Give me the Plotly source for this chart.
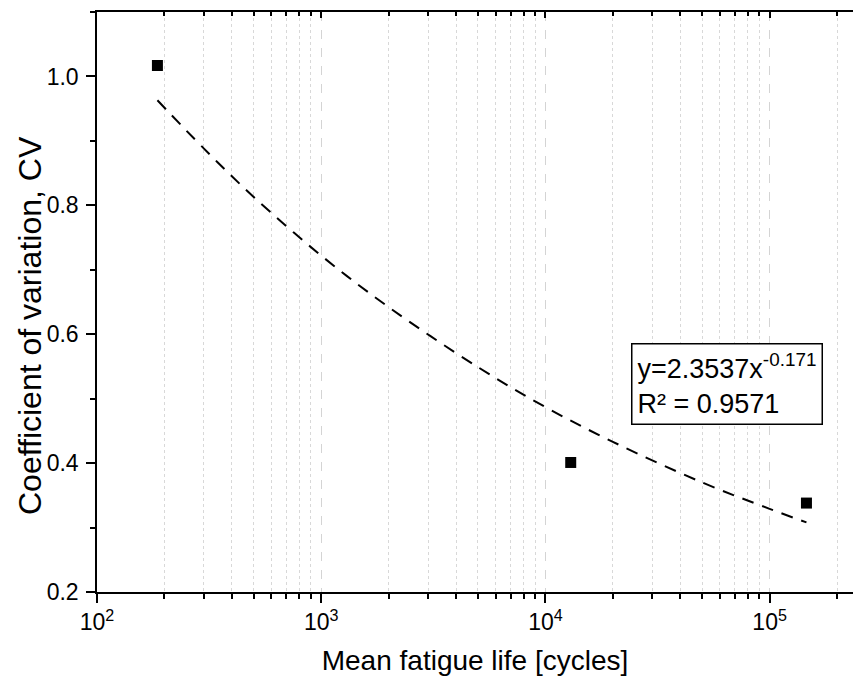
import plotly.graph_objects as go

# Measured data points
mean_life = [186, 12970, 146000]
cv_values = [1.017, 0.401, 0.338]

# Points (y = 2.3537 x^-0.171)
fit_x = [186, 300, 500, 1000, 2000, 5000, 10000, 20000, 50000, 100000, 146000]
fit_y = [0.963, 0.888, 0.813, 0.722, 0.642, 0.549, 0.487, 0.433, 0.370, 0.329, 0.308]

x_major = [100, 1000, 10000, 100000]
x_major_text = ["10<sup>2</sup>", "10<sup>3</sup>", "10<sup>4</sup>", "10<sup>5</sup>"]
x_minor = [m * d for d in (100, 1000, 10000, 100000) for m in range(2, 10)]
y_major = [0.2, 0.4, 0.6, 0.8, 1.0]
y_major_text = ["0.2", "0.4", "0.6", "0.8", "1.0"]
y_minor = [0.3, 0.5, 0.7, 0.9, 1.1]

fit_label = "y=2.3537x<sup>-0.171</sup><br>R² = 0.9571"
y_title = "Coefficient of variation, CV"
x_title = "Mean fatigue life [cycles]"

FONT = "Liberation Sans, Arial, sans-serif"
xrange = [2, 5.372]

fig = go.Figure()
fig.add_trace(go.Scatter(x=fit_x, y=fit_y, mode="lines", line=dict(color="black", width=2, dash="12px,9px", shape="spline"),
                         showlegend=False, hoverinfo="skip"))
fig.add_trace(go.Scatter(x=mean_life, y=cv_values, mode="markers",
                         marker=dict(symbol="square", size=11, color="black"), showlegend=False))
fig.add_trace(go.Scatter(x=[mean_life[0]], y=[cv_values[0]], xaxis="x2", mode="markers",
                         marker=dict(opacity=0), showlegend=False, hoverinfo="skip"))

fig.update_layout(
    width=853, height=678,
    margin=dict(l=97, r=0, t=12, b=86),
    paper_bgcolor="white", plot_bgcolor="white",
    font=dict(family=FONT, color="black"),
    xaxis=dict(type="log", range=xrange, tickmode="array", tickvals=x_major, ticktext=x_major_text,
               ticks="outside", ticklen=9, tickwidth=1.5, tickcolor="black",
               showline=True, linecolor="black", linewidth=1.5,
               showgrid=True, gridcolor="#d4d4d4", gridwidth=1, griddash="dash",
               tickfont=dict(size=23), zeroline=False,
               minor=dict(tickmode="array", tickvals=x_minor, ticks="outside", ticklen=5, tickwidth=1.5,
                          tickcolor="black", showgrid=True, gridcolor="#d8d8d8", gridwidth=1, griddash="dot"),
               title=dict(text=x_title, font=dict(size=28), standoff=16)),
    xaxis2=dict(type="log", range=xrange, overlaying="x", side="top", anchor="y", tickmode="array",
                tickvals=x_major, ticks="inside", ticklen=6, tickwidth=1.5, tickcolor="black",
                showticklabels=False, showline=True, linecolor="black", linewidth=1.5, showgrid=False,
                minor=dict(tickmode="array", tickvals=x_minor, ticks="inside", ticklen=4, tickwidth=1.5,
                           tickcolor="black", showgrid=False)),
    yaxis=dict(range=[0.2, 1.1], tickmode="array", tickvals=y_major, ticktext=y_major_text,
               ticks="outside", ticklen=9, tickwidth=1.5, tickcolor="black",
               showline=True, linecolor="black", linewidth=1.5, showgrid=False, zeroline=False,
               tickfont=dict(size=23), ticklabelstandoff=3,
               minor=dict(tickmode="array", tickvals=y_minor, ticks="outside", ticklen=5, tickwidth=1.5,
                          tickcolor="black")),
)

fig.add_annotation(x=-0.0886, y=0.4586, xref="paper", yref="paper", xanchor="center", yanchor="middle",
                   text=y_title, textangle=-90, showarrow=False, font=dict(size=32, family=FONT))

fig.add_annotation(x=4.380, y=0.586, xref="x", yref="y", xanchor="left", yanchor="top",
                   text=fit_label, showarrow=False, align="left", font=dict(size=27, family=FONT),
                   bordercolor="black", borderwidth=1.5, borderpad=5, bgcolor="white")

fig.write_html("out.html")
